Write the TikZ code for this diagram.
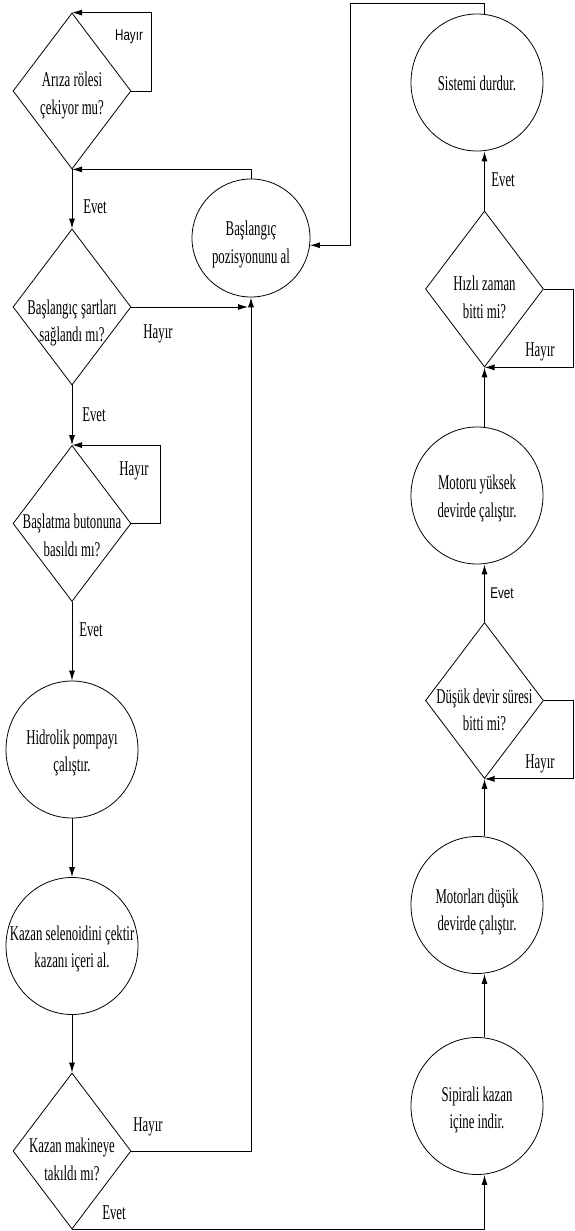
\documentclass[tikz,border=0pt]{standalone}
\usepackage{fontspec}
\setmainfont{Liberation Serif}[FakeStretch=0.61]
\newfontfamily\lblsans{Liberation Sans}[FakeStretch=0.75]
\usetikzlibrary{shapes.geometric,arrows.meta}

% centred multi-line text that does not enlarge its shape; #1 lowers it
\newcommand\ctext[2][0]{\smash{\makebox[0pt]{\raisebox{-#1pt}{\begin{tabular}{@{}c@{}}#2\end{tabular}}}}}

\begin{document}
\begin{tikzpicture}[x=1pt,y=-1pt,
  every node/.style={font=\fontsize{21}{27.5}\selectfont},
  decision/.style={draw, diamond, inner sep=0pt, minimum width=118pt, minimum height=156pt, line width=0.8pt},
  process/.style={draw, ellipse, inner sep=0pt, minimum width=132pt, minimum height=137pt, line width=0.8pt},
  posbox/.style={draw, circle, inner sep=0pt, minimum size=118pt, line width=0.8pt},
  lbl/.style={inner sep=0pt},
  lblsf/.style={inner sep=0pt, font=\lblsans\fontsize{15.5}{18}\selectfont},
  arr/.style={line width=0.9pt, -{Latex[length=10pt,width=6pt]}}
]
\useasboundingbox (0,0) rectangle (574,1231);

% left column
\node[decision] (d1) at (72,91)    {\ctext[9]{Arıza rölesi\\çekiyor mu?}};
\node[decision] (d2) at (72,307)   {\ctext[20.5]{Başlangıç şartları\\sağlandı mı?}};
\node[decision] (d3) at (72,523.5) {\ctext[18.5]{Başlatma butonuna\\basıldı mı?}};
\node[process]  (c1) at (72,749.5) {\ctext[8]{Hidrolik pompayı\\çalıştır.}};
\node[process]  (c2) at (72,946)   {\ctext[7.5]{Kazan selenoidini çektir\\kazanı içeri al.}};
\node[decision] (d4) at (72,1151)  {\ctext[15]{Kazan makineye\\takıldı mı?}};

% start position
\node[posbox] (b) at (251,238) {\ctext[11]{Başlangıç\\pozisyonunu al}};

% right column
\node[process]  (s)  at (477,82.5)   {\ctext[7.5]{Sistemi durdur.}};
\node[decision] (d5) at (484.5,289)  {\ctext[15]{Hızlı zaman\\bitti mi?}};
\node[process]  (m2) at (477,495.5)  {\ctext[7.5]{Motoru yüksek\\devirde çalıştır.}};
\node[decision] (d6) at (484.5,700.5){\ctext[16]{Düşük devir süresi\\bitti mi?}};
\node[process]  (m1) at (477,905)    {\ctext[11.5]{Motorları düşük\\devirde çalıştır.}};
\node[process]  (sp) at (477,1106)   {\ctext[8.5]{Sipirali kazan\\içine indir.}};

\coordinate (tp) at (350,3);
\coordinate (j) at (b.south |- d2.east);

% left column connectors
\draw[arr] (d1.east) -- ++(20,0) |- (d1.north);
\draw[arr] (d1.south) -- (d2.north);
\draw[arr] (b.north) |- (d1.south);
\draw[arr, shorten >=3pt] (d2.east) -- (j);
\draw[arr] (d2.south) -- (d3.north);
\draw[arr] (d3.east) -- ++(29,0) |- (d3.north);
\draw[arr] (d3.south) -- (c1.north);
\draw[arr] (c1.south) -- (c2.north);
\draw[arr] (c2.south) -- (d4.north);
\draw[arr] (d4.east) -| (b.south);
\draw[arr] (d4.south) -| (sp.south -| d6.south);

% right column connectors
\draw[arr] (sp.north -| d6.south) -- (m1.south -| d6.south);
\draw[arr] (m1.north -| d6.south) -- (d6.south);
\draw[arr] (d6.east) -- ++(30,0) |- (d6.south);
\draw[arr] (d6.north) -- (m2.south -| d6.north);
\draw[arr] (m2.north -| d5.south) -- (d5.south);
\draw[arr] (d5.east) -- ++(30,0) |- (d5.south);
\draw[arr] (d5.north) -- (s.south -| d5.north);
\draw[arr] (s.north -| d5.north) |- (tp) |- (b.-7);

% branch labels
\node[lblsf] (h1) at (129,37)   {Hayır};
\node[lbl]   (e1) at (95,207)   {Evet};
\node[lbl]   (h2) at (158,334)  {Hayır};
\node[lbl]   (e2) at (94,415)   {Evet};
\node[lbl]   (h3) at (134,471)  {Hayır};
\node[lbl]   (e3) at (91,630)   {Evet};
\node[lbl]   (h4) at (148,1127) {Hayır};
\node[lbl]   (e4) at (114,1213) {Evet};
\node[lbl]   (e5) at (503,180)  {Evet};
\node[lbl]   (h5) at (540,352)  {Hayır};
\node[lblsf] (e6) at (502,593)  {Evet};
\node[lbl]   (h6) at (540,764)  {Hayır};
\end{tikzpicture}
\end{document}
